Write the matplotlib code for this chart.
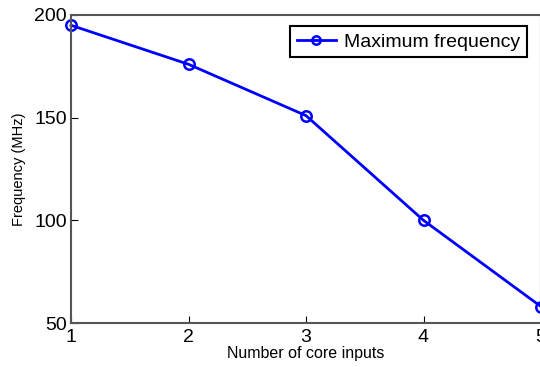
import matplotlib.pyplot as plt
import numpy as np

plt.rcParams['font.family'] = ['Liberation Sans', 'DejaVu Sans']

core_inputs = [1, 2, 3, 4, 5]
max_freq = [195, 176, 151, 100, 58]

W, H = 540, 367
fig = plt.figure(figsize=(W / 100, H / 100), dpi=100)
ax = fig.add_axes([71 / W, 1 - 323 / H, 470 / W, (323 - 15) / H])

ax.plot(core_inputs, max_freq, color='#0000ff', lw=2, marker='o', ms=7.5,
        mfc='none', mec='#0000ff', mew=1.8, label='Maximum frequency', clip_on=False)

ax.set_xlim(1, 5)
ax.set_ylim(50, 200)
ax.set_xticks(core_inputs)
ax.set_yticks([50, 100, 150, 200])
ax.tick_params(direction='in', length=5, labelsize=14)
ax.tick_params(axis='x', pad=4)
ax.tick_params(axis='y', pad=3)
for s in ax.spines.values():
    s.set_color('#555555')
    s.set_linewidth(1.5)

ax.set_xlabel('Number of core inputs', fontsize=11.5, labelpad=0)
ax.set_ylabel('Frequency (MHz)', fontsize=10.5, labelpad=6)

leg = ax.legend(loc='upper right', fontsize=14, fancybox=False, framealpha=1,
                edgecolor='black', borderpad=0.35, handlelength=2.0,
                handletextpad=0.4, markerscale=0.8,
                bbox_to_anchor=(0.99, 0.995))
leg.get_frame().set_linewidth(1.5)

fig.savefig('out.png', dpi=100)
